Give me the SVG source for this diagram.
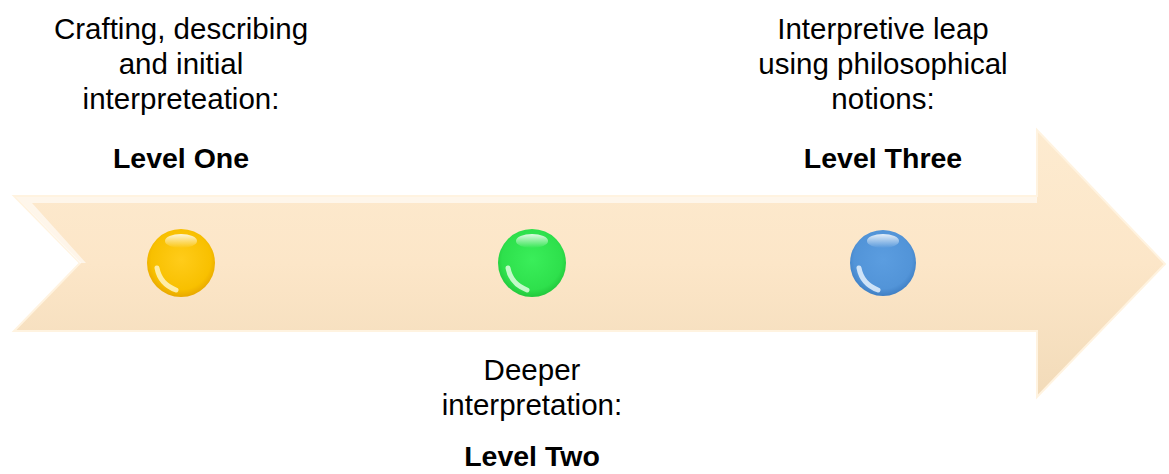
<svg xmlns="http://www.w3.org/2000/svg" width="1169" height="474" viewBox="0 0 1169 474">
<defs>
<linearGradient id="arrowFill" x1="0" y1="0" x2="0" y2="1">
<stop offset="0" stop-color="#fdebd0"/>
<stop offset="0.5" stop-color="#fce6c8"/>
<stop offset="1" stop-color="#f2dbb9"/>
</linearGradient>
<radialGradient id="gYellow" cx="0.5" cy="0.45" r="0.55">
<stop offset="0" stop-color="#ffcc1a"/>
<stop offset="0.8" stop-color="#f8c000"/>
<stop offset="1" stop-color="#e8a800"/>
</radialGradient>
<radialGradient id="gGreen" cx="0.5" cy="0.45" r="0.55">
<stop offset="0" stop-color="#3aee5a"/>
<stop offset="0.8" stop-color="#2ee04c"/>
<stop offset="1" stop-color="#22c83c"/>
</radialGradient>
<radialGradient id="gBlue" cx="0.5" cy="0.45" r="0.55">
<stop offset="0" stop-color="#5b9de0"/>
<stop offset="0.8" stop-color="#5294d8"/>
<stop offset="1" stop-color="#3f7fc4"/>
</radialGradient>
<linearGradient id="shine" x1="0" y1="0" x2="0" y2="1">
<stop offset="0" stop-color="#ffffff" stop-opacity="0.85"/>
<stop offset="1" stop-color="#ffffff" stop-opacity="0"/>
</linearGradient>
</defs>
<style>
.t{font-family:"Liberation Sans",Arial,sans-serif;font-size:29.5px;fill:#000;text-anchor:middle}
.b{font-weight:bold;font-size:28.5px}
.hl{fill:url(#shine)}
</style>
<g id="arrow">
<path d="M14,196 L1037,196 L1037,130 L1165,264 L1037,397 L1037,331 L14,331 L80,263 Z" fill="url(#arrowFill)" stroke="#fff3e0" stroke-width="2"/>
<path d="M16,197 L1037,197 L1037,203 L32,203 L86,263 L80,263 Z" fill="#ffffff" opacity="0.6"/>
</g>
<g id="node1">
<circle cx="181" cy="263" r="34" fill="url(#gYellow)"/>
<ellipse cx="181" cy="241" rx="16" ry="7" class="hl"/>
<path d="M157,268 Q160,284 176,290" stroke="#fff8d0" stroke-width="5" fill="none" stroke-linecap="round" opacity="0.8"/>
<text class="t" x="181" y="39">Crafting, describing</text>
<text class="t" x="181" y="74">and initial</text>
<text class="t" x="181" y="109">interpreteation:</text>
<text class="t b" x="181" y="168">Level One</text>
</g>
<g id="node2">
<circle cx="532" cy="263" r="34" fill="url(#gGreen)"/>
<ellipse cx="532" cy="241" rx="16" ry="7" class="hl"/>
<path d="M508,268 Q511,284 527,290" stroke="#e8ffe8" stroke-width="5" fill="none" stroke-linecap="round" opacity="0.8"/>
<text class="t" x="532" y="380">Deeper</text>
<text class="t" x="532" y="415">interpretation:</text>
<text class="t b" x="532" y="466">Level Two</text>
</g>
<g id="node3">
<circle cx="883" cy="263" r="33" fill="url(#gBlue)"/>
<ellipse cx="883" cy="241" rx="16" ry="7" class="hl"/>
<path d="M859,268 Q862,284 878,290" stroke="#eef6ff" stroke-width="5" fill="none" stroke-linecap="round" opacity="0.8"/>
<text class="t" x="883" y="39">Interpretive leap</text>
<text class="t" x="883" y="74">using philosophical</text>
<text class="t" x="883" y="109">notions:</text>
<text class="t b" x="883" y="168">Level Three</text>
</g>
<g id="connectors"/>
</svg>
